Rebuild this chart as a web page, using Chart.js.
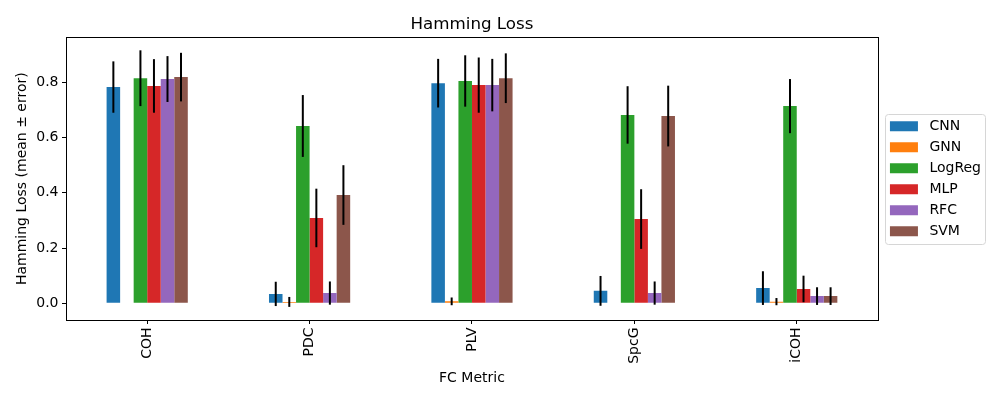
<!DOCTYPE html>
<html><head><meta charset="utf-8">
<script src="https://cdn.jsdelivr.net/npm/chart.js@4"></script>
<style>html,body{margin:0;padding:0;background:#fff}#wrap{width:1000px;height:400px;position:relative}</style>
</head><body><div id="wrap"><canvas id="c"></canvas></div>
<script>
const categories = ['COH', 'PDC', 'PLV', 'SpcG', 'iCOH'];
const models = ['CNN', 'GNN', 'LogReg', 'MLP', 'RFC', 'SVM'];
const colors = ['#1f77b4', '#ff7f0e', '#2ca02c', '#d62728', '#9467bd', '#8c564b'];

const cnnMean    = [0.783, 0.034, 0.797, 0.045, 0.055];
const cnnErr     = [0.093, 0.044, 0.088, 0.054, 0.061];
const gnnMean    = [0.000, 0.005, 0.007, 0.000, 0.006];
const gnnErr     = [0.000, 0.018, 0.014, 0.000, 0.013];
const logregMean = [0.815, 0.642, 0.805, 0.682, 0.714];
const logregErr  = [0.101, 0.112, 0.093, 0.104, 0.098];
const mlpMean    = [0.787, 0.309, 0.790, 0.305, 0.052];
const mlpErr     = [0.097, 0.106, 0.100, 0.108, 0.048];
const rfcMean    = [0.812, 0.037, 0.790, 0.037, 0.026];
const rfcErr     = [0.083, 0.042, 0.095, 0.042, 0.032];
const svmMean    = [0.819, 0.392, 0.815, 0.678, 0.026];
const svmErr     = [0.088, 0.108, 0.090, 0.110, 0.032];

const yTicks = [0.0, 0.2, 0.4, 0.6, 0.8];
const yMin = -0.0605, yMax = 0.963;

const means = [cnnMean, gnnMean, logregMean, mlpMean, rfcMean, svmMean];
const errs = [cnnErr, gnnErr, logregErr, mlpErr, rfcErr, svmErr];

const FONT = 'DejaVu Sans';

const errorBarPlugin = {
  id: 'errorBars',
  afterDatasetsDraw(chart) {
    const ctx = chart.ctx;
    const ys = chart.scales.y;
    ctx.save();
    ctx.strokeStyle = '#000';
    ctx.lineWidth = 2;
    ctx.lineCap = 'butt';
    chart.data.datasets.forEach((ds, i) => {
      const meta = chart.getDatasetMeta(i);
      meta.data.forEach((bar, j) => {
        const m = ds.data[j], e = ds.errors[j];
        if (!e) return;
        const x = bar.x;
        ctx.beginPath();
        ctx.moveTo(x, ys.getPixelForValue(m - e));
        ctx.lineTo(x, ys.getPixelForValue(m + e));
        ctx.stroke();
      });
    });
    ctx.restore();
  }
};

const framePlugin = {
  id: 'frames',
  afterLayout(chart) {
    const lg = chart.legend;
    if (lg) { lg.left += 5; lg.right += 5; }
  },
  afterDraw(chart) {
    const ctx = chart.ctx;
    const a = chart.chartArea;
    ctx.save();
    ctx.strokeStyle = '#000';
    ctx.lineWidth = 1;
    ctx.strokeRect(Math.round(a.left) + 0.5, Math.round(a.top) + 0.5, Math.round(a.right - a.left), Math.round(a.bottom - a.top));
    // legend frame
    const lg = chart.legend;
    if (lg && lg.legendHitBoxes && lg.legendHitBoxes.length) {
      const pad = 7, itemH = 14, n = lg.legendItems.length;
      const colH = n * (itemH + pad);
      const y0 = ((lg.top + pad) + (lg.bottom - colH)) / 2;
      const x0 = lg.left + pad - 5;
      const x1 = 985;
      const yTop = y0 - 5, yBot = y0 + colH - pad + 6;
      ctx.strokeStyle = '#d6d6d6';
      ctx.lineWidth = 1;
      const r = 3;
      ctx.beginPath();
      const L = Math.round(x0) + 0.5, T = Math.round(yTop) + 0.5, R = Math.round(x1) + 0.5, B = Math.round(yBot) + 0.5;
      ctx.moveTo(L + r, T);
      ctx.lineTo(R - r, T); ctx.quadraticCurveTo(R, T, R, T + r);
      ctx.lineTo(R, B - r); ctx.quadraticCurveTo(R, B, R - r, B);
      ctx.lineTo(L + r, B); ctx.quadraticCurveTo(L, B, L, B - r);
      ctx.lineTo(L, T + r); ctx.quadraticCurveTo(L, T, L + r, T);
      ctx.stroke();
    }
    ctx.restore();
  }
};

new Chart(document.getElementById('c'), {
  type: 'bar',
  data: {
    labels: categories,
    datasets: models.map((name, i) => ({
      label: name,
      data: means[i],
      errors: errs[i],
      backgroundColor: colors[i],
      borderWidth: 0,
      categoryPercentage: 0.5,
      barPercentage: 1.0
    }))
  },
  options: {
    responsive: true,
    maintainAspectRatio: false,
    animation: false,
    events: [],
    layout: { padding: { left: 0, right: 14, top: 0, bottom: 0 } },
    plugins: {
      tooltip: { enabled: false },
      title: {
        display: true,
        text: 'Hamming Loss',
        color: '#000',
        fullSize: false,
        font: { family: FONT, size: 16.7, weight: 'normal', lineHeight: 1.2 },
        padding: { top: 14.3, bottom: 3 }
      },
      legend: {
        display: true,
        position: 'right',
        fullSize: false,
        labels: {
          color: '#000',
          boxWidth: 28,
          boxHeight: 10,
          padding: 7,
          font: { family: FONT, size: 14 },
          generateLabels(chart) {
            const items = Chart.defaults.plugins.legend.labels.generateLabels(chart);
            items.forEach(it => { it.text = ' ' + it.text; it.lineWidth = 0; });
            return items;
          }
        }
      }
    },
    scales: {
      x: {
        offset: true,
        grid: { display: true, offset: false, drawOnChartArea: false, drawTicks: true, tickLength: 4, color: '#000', lineWidth: 1 },
        border: { display: true, color: '#000', width: 1 },
        ticks: { color: '#000', font: { family: FONT, size: 14 }, minRotation: 90, maxRotation: 90, padding: 3.5 },
        title: { display: true, text: 'FC Metric', color: '#000', font: { family: FONT, size: 14 }, padding: { top: 0, bottom: 13 } },
        afterFit(s) { s.height = 80; }
      },
      y: {
        min: yMin,
        max: yMax,
        grid: { display: true, drawOnChartArea: false, drawTicks: true, tickLength: 4, color: '#000', lineWidth: 1 },
        border: { display: true, color: '#000', width: 1 },
        ticks: { color: '#000', font: { family: FONT, size: 14 }, padding: 3.5, callback: v => v.toFixed(1) },
        afterBuildTicks(s) { s.ticks = yTicks.map(v => ({ value: v })); },
        title: { display: true, text: 'Hamming Loss (mean ± error)', color: '#000', font: { family: FONT, size: 14 }, padding: { top: 13.5, bottom: 0 } },
        afterFit(s) { s.width = 66; }
      }
    }
  },
  plugins: [errorBarPlugin, framePlugin]
});
</script>
</body></html>
